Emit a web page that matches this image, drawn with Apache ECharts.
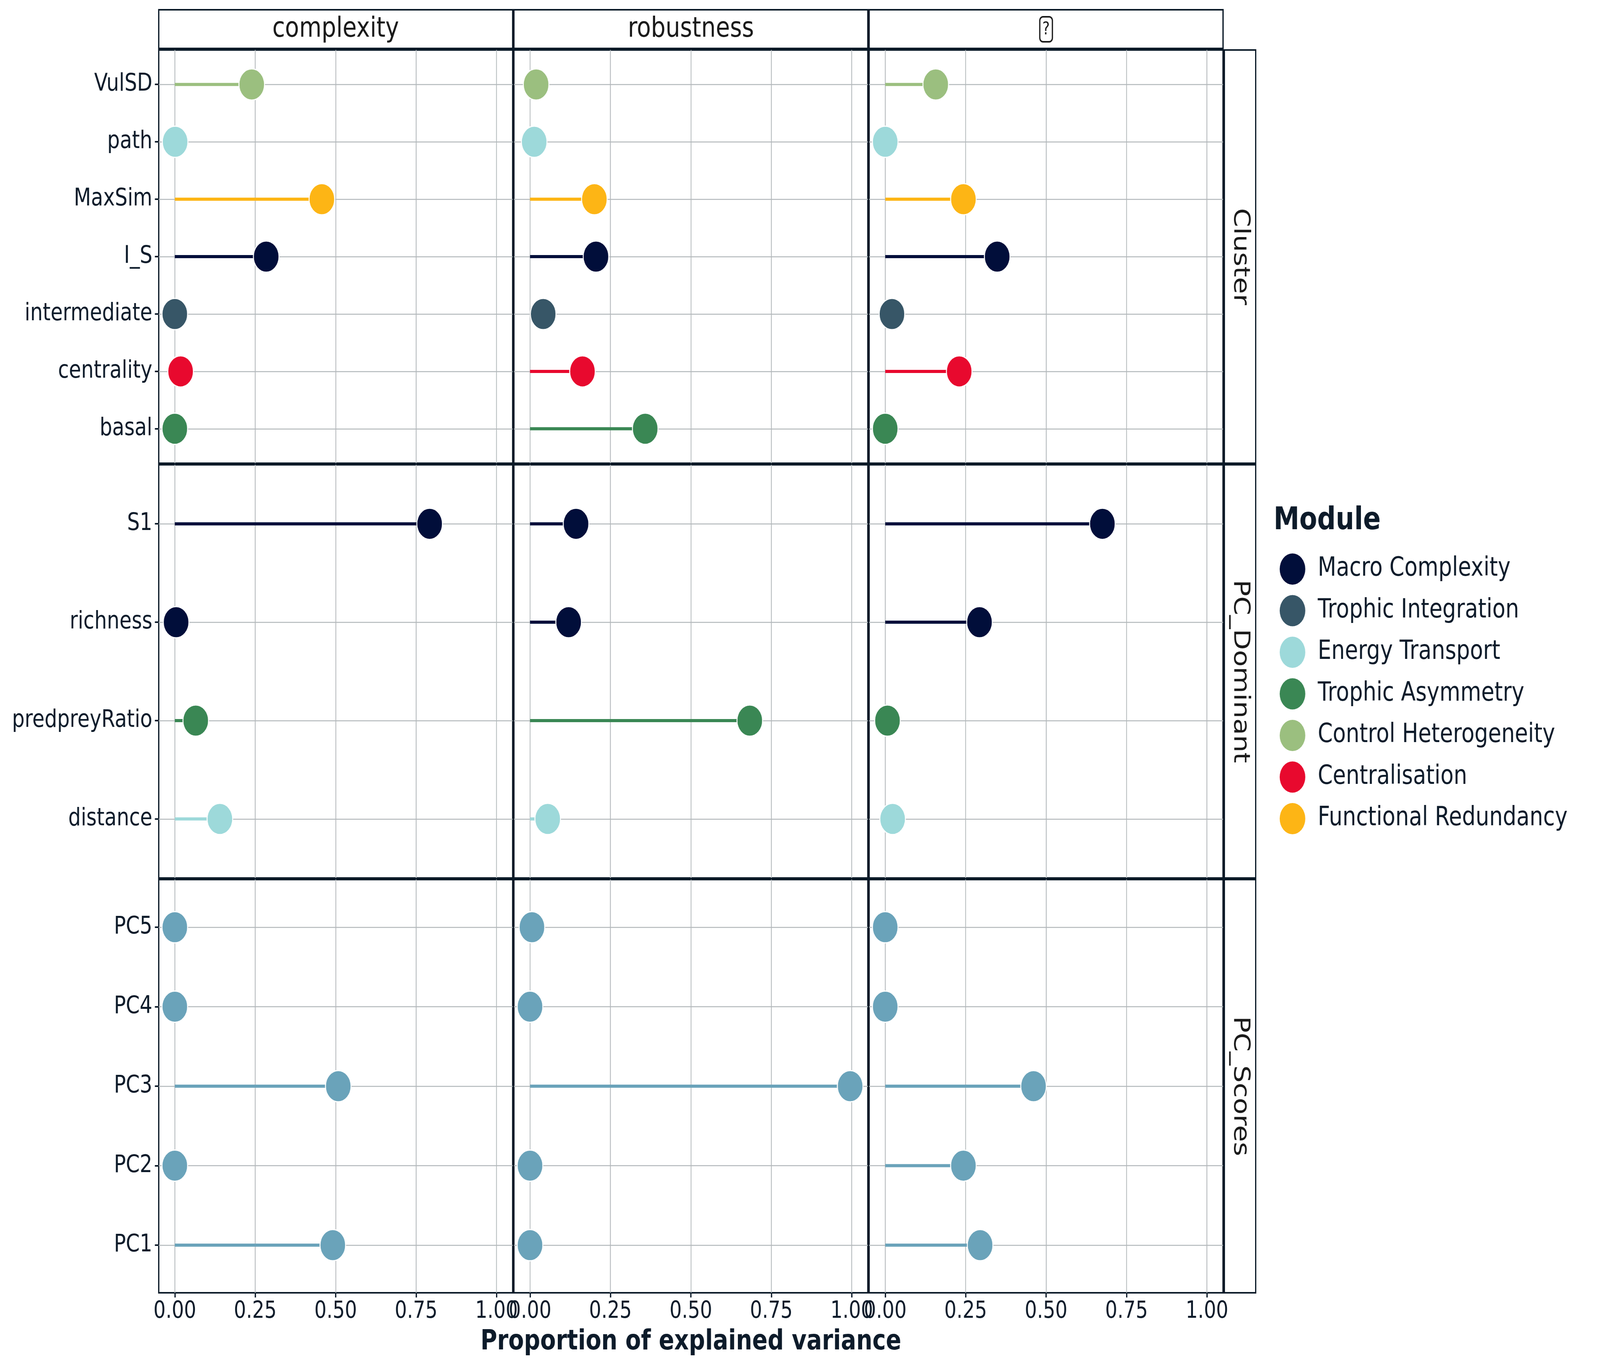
<!DOCTYPE html>
<html><head><meta charset="utf-8">
<script src="https://cdn.jsdelivr.net/npm/echarts@6/dist/echarts.min.js"></script>
<style>html,body{margin:0;padding:0;background:#fff;overflow:hidden}#c{width:5000px;height:3500px;transform-origin:0 0}</style>
</head><body><div id="c"></div>
<script>
// ---------- data ----------
const facetCols = ['complexity', 'robustness', '?'];
const facetRows = ['Cluster', 'PC_Dominant', 'PC_Scores'];

const moduleNames = ['Macro Complexity', 'Trophic Integration', 'Energy Transport', 'Trophic Asymmetry',
  'Control Heterogeneity', 'Centralisation', 'Functional Redundancy'];
const moduleColors = ['#010E3A', '#375667', '#9DD9DA', '#3A8754', '#9BBF7F', '#E8092E', '#FDB515'];
const pcColor = '#6AA3BA';

// variables listed top to bottom
const clusterVars = ['VulSD', 'path', 'MaxSim', 'I_S', 'intermediate', 'centrality', 'basal'];
const clusterModules = ['Control Heterogeneity', 'Energy Transport', 'Functional Redundancy', 'Macro Complexity',
  'Trophic Integration', 'Centralisation', 'Trophic Asymmetry'];
const clusterComplexity = [0.239, 0.001, 0.457, 0.284, 0.000, 0.018, 0.000];
const clusterRobustness = [0.019, 0.013, 0.200, 0.205, 0.041, 0.163, 0.358];
const clusterThird      = [0.157, 0.000, 0.243, 0.348, 0.021, 0.230, 0.000];

const dominantVars = ['S1', 'richness', 'predpreyRatio', 'distance'];
const dominantModules = ['Macro Complexity', 'Macro Complexity', 'Trophic Asymmetry', 'Energy Transport'];
const dominantComplexity = [0.792, 0.004, 0.065, 0.140];
const dominantRobustness = [0.143, 0.120, 0.683, 0.055];
const dominantThird      = [0.675, 0.293, 0.007, 0.023];

const scoreVars = ['PC5', 'PC4', 'PC3', 'PC2', 'PC1'];
const scoreComplexity = [0.000, 0.000, 0.508, 0.000, 0.491];
const scoreRobustness = [0.006, 0.000, 0.995, 0.000, 0.000];
const scoreThird      = [0.000, 0.000, 0.461, 0.243, 0.295];

const xTicks = [0, 0.25, 0.5, 0.75, 1];
const xTitle = 'Proportion of explained variance';
const legendTitle = 'Module';

// ---------- layout ----------
const FONT = 'DejaVu Sans';
const ink = '#0D1B2A';
const border = '#0B1A28';
const gridCol = '#B3B8BB';
const colLeft = [496, 1606, 2716];
const W = 1106;
const rowTop = [128, 1190, 2252];
const H = 1058;

const colorOf = m => moduleColors[moduleNames.indexOf(m)];
const rows = [
  { vars: clusterVars, colors: clusterModules.map(colorOf), vals: [clusterComplexity, clusterRobustness, clusterThird] },
  { vars: dominantVars, colors: dominantModules.map(colorOf), vals: [dominantComplexity, dominantRobustness, dominantThird] },
  { vars: scoreVars, colors: scoreVars.map(() => pcColor), vals: [scoreComplexity, scoreRobustness, scoreThird] }
];

const grids = [], xAxes = [], yAxes = [], series = [];
rows.forEach((row, r) => {
  const n = row.vars.length;
  const u = H / (n - 1 + 1.2);
  for (let c = 0; c < 3; c++) {
    const go = grids.length;
    grids.push({ left: colLeft[c], top: rowTop[r], width: W, height: H, show: true,
      borderColor: border, borderWidth: 4, backgroundColor: '#fff' });
    xAxes.push({ gridIndex: go, type: 'value', min: -0.05, max: 1.05, position: 'bottom',
      axisLine: { show: false, onZero: false },
      axisTick: { show: r === 2, customValues: xTicks, length: 12, lineStyle: { color: ink, width: 4 } },
      axisLabel: { show: r === 2, customValues: xTicks, formatter: v => v.toFixed(2), fontSize: 60,
        fontFamily: FONT, color: ink, margin: 18 },
      splitLine: { show: true, lineStyle: { color: gridCol, width: 2.5 } } });
    yAxes.push({ gridIndex: go, type: 'value', min: 0, max: 1, show: false });
    const gi = grids.length;
    grids.push({ left: colLeft[c], top: rowTop[r] + 0.6 * u, width: W, height: H - 1.2 * u, show: false });
    xAxes.push({ gridIndex: gi, type: 'value', min: -0.05, max: 1.05, show: false });
    const catsBottomFirst = row.vars.slice().reverse();
    yAxes.push({ gridIndex: gi, type: 'category', boundaryGap: false, data: catsBottomFirst, position: 'left',
      axisLine: { show: false, onZero: false },
      axisTick: { show: c === 0, length: 12, interval: 0, lineStyle: { color: ink, width: 4 } },
      axisLabel: { show: c === 0, interval: 0, fontSize: 62, fontFamily: FONT, color: ink, margin: 20 },
      splitLine: { show: true, interval: 0, lineStyle: { color: gridCol, width: 2.5 } } });
    const vals = row.vals[c].slice().reverse();
    const cols = row.colors.slice().reverse();
    series.push({ type: 'bar', xAxisIndex: gi, yAxisIndex: gi, barWidth: 8, silent: true, z: 2,
      data: vals.map((v, i) => ({ value: v, itemStyle: { color: cols[i], opacity: 1 } })) });
    series.push({ type: 'scatter', xAxisIndex: gi, yAxisIndex: gi, symbol: 'circle', symbolSize: 80, silent: true, z: 3,
      data: vals.map((v, i) => ({ value: [v, i], itemStyle: { color: cols[i], opacity: 1, borderColor: '#fff', borderWidth: 3 } })) });
  }
});
moduleNames.forEach((m, i) => {
  series.push({ name: m, type: 'scatter', xAxisIndex: 1, yAxisIndex: 1, data: [], itemStyle: { color: moduleColors[i], opacity: 1 } });
});

const graphic = [];
facetCols.forEach((name, c) => {
  graphic.push({ type: 'rect', shape: { x: colLeft[c], y: 25, width: W, height: 99 },
    style: { fill: '#fff', stroke: border, lineWidth: 4 } });
  if (name === '?') {
    graphic.push({ type: 'text', x: colLeft[c] + W / 2, y: 75,
      style: { text: '{t|?}', align: 'center', verticalAlign: 'middle', textAlign: 'center', textVerticalAlign: 'middle',
        rich: { t: { fontFamily: FONT, fontSize: 44, fill: '#1a1a1a', color: '#1a1a1a', borderColor: '#1a1a1a', borderWidth: 4,
          borderRadius: 10, padding: [12, 8, 8, 8] } } } });
  } else {
    graphic.push({ type: 'text', x: colLeft[c] + W / 2, y: 75,
      style: { text: name, fontFamily: FONT, fontSize: 72, fill: '#1a1a1a', align: 'center', verticalAlign: 'middle',
        textAlign: 'center', textVerticalAlign: 'middle' } });
  }
});
facetRows.forEach((name, r) => {
  graphic.push({ type: 'rect', shape: { x: 3826, y: rowTop[r], width: 98, height: H },
    style: { fill: '#fff', stroke: border, lineWidth: 4 } });
  graphic.push({ type: 'text', x: 3875, y: rowTop[r] + H / 2, rotation: -Math.PI / 2,
    style: { text: name, fontFamily: FONT, fontSize: 70, fill: '#1a1a1a', align: 'center', verticalAlign: 'middle',
      textAlign: 'center', textVerticalAlign: 'middle' } });
});
graphic.push({ type: 'text', x: colLeft[1] + W / 2, y: 3437,
  style: { text: xTitle, fontFamily: FONT, fontWeight: 'bold', fontSize: 71, fill: ink, align: 'center', verticalAlign: 'middle',
    textAlign: 'center', textVerticalAlign: 'middle' } });
graphic.push({ type: 'text', x: 3980, y: 1334,
  style: { text: legendTitle, fontFamily: FONT, fontWeight: 'bold', fontSize: 81, fill: ink, align: 'left', verticalAlign: 'middle',
    textAlign: 'left', textVerticalAlign: 'middle' } });

const el = document.getElementById('c');
const chart = echarts.init(el, null, { renderer: 'canvas', width: 5000, height: 3500 });
chart.setOption({
  backgroundColor: '#fff',
  animation: false,
  textStyle: { fontFamily: FONT },
  grid: grids, xAxis: xAxes, yAxis: yAxes, series: series, graphic: graphic,
  legend: { data: moduleNames, orient: 'vertical', left: 3994, top: 1412, itemWidth: 80, itemHeight: 80, itemGap: 26.5,
    icon: 'circle', selectedMode: false,
    textStyle: { fontSize: 67, fontFamily: FONT, color: ink, padding: [0, 0, 0, 34] } }
});
// fit the 5000x3500 drawing into the actual window if it is smaller
const sx = Math.min(1, window.innerWidth / 5000), sy = Math.min(1, window.innerHeight / 3500);
if (sx < 1 || sy < 1) el.style.transform = 'scale(' + sx + ',' + sy + ')';
</script></body></html>
